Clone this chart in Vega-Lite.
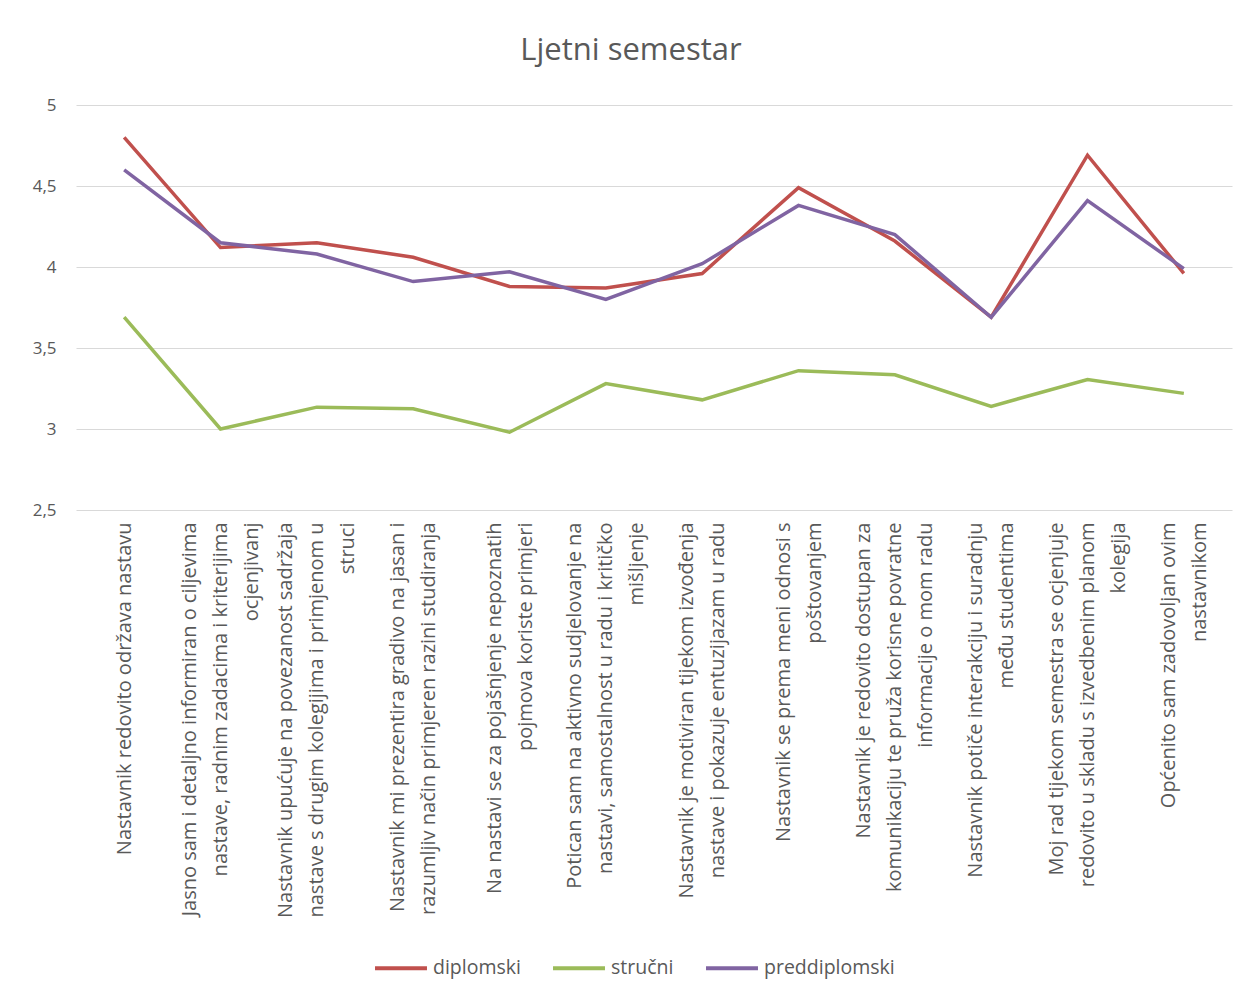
{
  "$schema": "https://vega.github.io/schema/vega-lite/v6.json",
  "autosize": "none",
  "width": 1156,
  "height": 405,
  "padding": {"left": 76, "top": 105, "right": 7, "bottom": 488},
  "background": "white",
  "config": {"view": {"stroke": null}},
  "title": {"text": "Ljetni semestar", "fontSize": 31, "font": "Open Sans", "color": "#595959", "fontWeight": "normal", "offset": 29, "dx": -23},
  "data": {"values": [
    {"q": "Nastavnik redovito održava nastavu", "group": "diplomski", "v": 4.80},
    {"q": "Jasno sam i detaljno informiran o ciljevima|nastave, radnim zadacima i kriterijima|ocjenjivanj", "group": "diplomski", "v": 4.12},
    {"q": "Nastavnik upućuje na povezanost sadržaja|nastave s drugim kolegijima i primjenom u|struci", "group": "diplomski", "v": 4.15},
    {"q": "Nastavnik mi prezentira gradivo na jasan i|razumljiv način primjeren razini studiranja", "group": "diplomski", "v": 4.06},
    {"q": "Na nastavi se za pojašnjenje nepoznatih|pojmova koriste primjeri", "group": "diplomski", "v": 3.88},
    {"q": "Potican sam na aktivno sudjelovanje na|nastavi, samostalnost u radu i kritičko|mišljenje", "group": "diplomski", "v": 3.87},
    {"q": "Nastavnik je motiviran tijekom izvođenja|nastave i pokazuje entuzijazam u radu", "group": "diplomski", "v": 3.96},
    {"q": "Nastavnik se prema meni odnosi s|poštovanjem", "group": "diplomski", "v": 4.49},
    {"q": "Nastavnik je redovito dostupan za|komunikaciju te pruža korisne povratne|informacije o mom radu", "group": "diplomski", "v": 4.16},
    {"q": "Nastavnik potiče interakciju i suradnju|među studentima", "group": "diplomski", "v": 3.69},
    {"q": "Moj rad tijekom semestra se ocjenjuje|redovito u skladu s izvedbenim planom|kolegija", "group": "diplomski", "v": 4.69},
    {"q": "Općenito sam zadovoljan ovim|nastavnikom", "group": "diplomski", "v": 3.96},
    {"q": "Nastavnik redovito održava nastavu", "group": "stručni", "v": 3.69},
    {"q": "Jasno sam i detaljno informiran o ciljevima|nastave, radnim zadacima i kriterijima|ocjenjivanj", "group": "stručni", "v": 3.00},
    {"q": "Nastavnik upućuje na povezanost sadržaja|nastave s drugim kolegijima i primjenom u|struci", "group": "stručni", "v": 3.135},
    {"q": "Nastavnik mi prezentira gradivo na jasan i|razumljiv način primjeren razini studiranja", "group": "stručni", "v": 3.125},
    {"q": "Na nastavi se za pojašnjenje nepoznatih|pojmova koriste primjeri", "group": "stručni", "v": 2.98},
    {"q": "Potican sam na aktivno sudjelovanje na|nastavi, samostalnost u radu i kritičko|mišljenje", "group": "stručni", "v": 3.28},
    {"q": "Nastavnik je motiviran tijekom izvođenja|nastave i pokazuje entuzijazam u radu", "group": "stručni", "v": 3.18},
    {"q": "Nastavnik se prema meni odnosi s|poštovanjem", "group": "stručni", "v": 3.36},
    {"q": "Nastavnik je redovito dostupan za|komunikaciju te pruža korisne povratne|informacije o mom radu", "group": "stručni", "v": 3.335},
    {"q": "Nastavnik potiče interakciju i suradnju|među studentima", "group": "stručni", "v": 3.14},
    {"q": "Moj rad tijekom semestra se ocjenjuje|redovito u skladu s izvedbenim planom|kolegija", "group": "stručni", "v": 3.305},
    {"q": "Općenito sam zadovoljan ovim|nastavnikom", "group": "stručni", "v": 3.22},
    {"q": "Nastavnik redovito održava nastavu", "group": "preddiplomski", "v": 4.60},
    {"q": "Jasno sam i detaljno informiran o ciljevima|nastave, radnim zadacima i kriterijima|ocjenjivanj", "group": "preddiplomski", "v": 4.15},
    {"q": "Nastavnik upućuje na povezanost sadržaja|nastave s drugim kolegijima i primjenom u|struci", "group": "preddiplomski", "v": 4.08},
    {"q": "Nastavnik mi prezentira gradivo na jasan i|razumljiv način primjeren razini studiranja", "group": "preddiplomski", "v": 3.91},
    {"q": "Na nastavi se za pojašnjenje nepoznatih|pojmova koriste primjeri", "group": "preddiplomski", "v": 3.97},
    {"q": "Potican sam na aktivno sudjelovanje na|nastavi, samostalnost u radu i kritičko|mišljenje", "group": "preddiplomski", "v": 3.80},
    {"q": "Nastavnik je motiviran tijekom izvođenja|nastave i pokazuje entuzijazam u radu", "group": "preddiplomski", "v": 4.02},
    {"q": "Nastavnik se prema meni odnosi s|poštovanjem", "group": "preddiplomski", "v": 4.38},
    {"q": "Nastavnik je redovito dostupan za|komunikaciju te pruža korisne povratne|informacije o mom radu", "group": "preddiplomski", "v": 4.20},
    {"q": "Nastavnik potiče interakciju i suradnju|među studentima", "group": "preddiplomski", "v": 3.69},
    {"q": "Moj rad tijekom semestra se ocjenjuje|redovito u skladu s izvedbenim planom|kolegija", "group": "preddiplomski", "v": 4.41},
    {"q": "Općenito sam zadovoljan ovim|nastavnikom", "group": "preddiplomski", "v": 3.99}
  ]},
  "mark": {"type": "line", "strokeWidth": 3.5},
  "encoding": {
    "x": {
      "field": "q", "type": "nominal", "sort": null,
      "scale": {"type": "point", "padding": 0.5},
      "axis": {
        "title": null, "labelAngle": -90, "labelAlign": "right", "labelBaseline": "middle",
        "labelExpr": "split(datum.label, '|')", "labelLineHeight": 31,
        "labelOffset": {"condition": [
          {"test": "length(split(datum.label, '|')) == 3", "value": -31},
          {"test": "length(split(datum.label, '|')) == 2", "value": -15.5}
        ], "value": 0},
        "labelFontSize": 20, "labelFont": "Open Sans", "labelColor": "#595959",
        "labelLimit": 700, "labelPadding": 12, "labelOverlap": false,
        "ticks": false, "domain": false, "grid": false
      }
    },
    "y": {
      "field": "v", "type": "quantitative",
      "scale": {"domain": [2.5, 5], "nice": false, "zero": false},
      "axis": {
        "title": null, "values": [2.5, 3, 3.5, 4, 4.5, 5],
        "labelExpr": "replace(toString(datum.value), '.', ',')",
        "ticks": false, "domain": false, "gridColor": "#d9d9d9", "gridWidth": 1,
        "labelFontSize": 17, "labelColor": "#595959", "labelFont": "Open Sans", "labelPadding": 20
      }
    },
    "color": {
      "field": "group", "type": "nominal",
      "sort": ["diplomski", "stručni", "preddiplomski"],
      "scale": {"domain": ["diplomski", "stručni", "preddiplomski"], "range": ["#C0504D", "#9BBB59", "#8064A2"]},
      "legend": {
        "orient": "none", "legendX": 297, "legendY": 835, "direction": "horizontal",
        "title": null, "symbolType": "stroke", "symbolSize": 2700, "symbolStrokeWidth": 4,
        "labelFontSize": 19.5, "labelColor": "#595959", "labelFont": "Open Sans",
        "columnPadding": 24, "labelOffset": 4, "padding": 0
      }
    }
  }
}
